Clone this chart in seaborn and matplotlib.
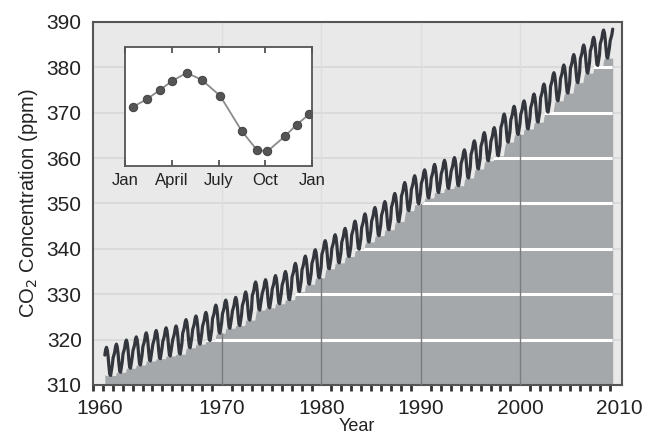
import numpy as np
import pandas as pd
import matplotlib
matplotlib.use("Agg")
import matplotlib.pyplot as plt
import seaborn as sns
from matplotlib.ticker import MultipleLocator

# annual mean CO2 (ppm)
years = list(range(1958, 2010))
annual_mean = [315.3, 316.0, 316.9, 317.6, 318.5, 319.0, 319.6, 320.0, 321.4, 322.2,
               323.0, 324.6, 325.7, 326.3, 327.5, 329.7, 330.2, 331.1, 332.0, 333.8,
               335.4, 336.8, 338.8, 340.1, 341.5, 343.1, 344.7, 346.1, 347.4, 349.2,
               351.6, 353.1, 354.4, 355.6, 356.5, 357.1, 358.8, 360.8, 362.6, 363.7,
               366.7, 368.4, 369.6, 371.1, 373.3, 375.8, 377.5, 379.8, 381.9, 383.6,
               385.2, 385.9]
# seasonal swing per month (Jan..Dec), ppm
month_offset = [0.0, 0.6, 1.3, 2.5, 3.0, 2.4, 0.9, -1.3, -3.0, -3.2, -2.0, -0.9]
start_year, start_month = 1958, 2   # March 1958
end_year, end_month = 2009, 3       # April 2009

# inset: one seasonal cycle
inset_month = [0.47, 1.39, 2.24, 2.99, 3.95, 4.91, 6.09, 7.48, 8.44, 9.12, 10.26, 11.0, 11.79]
inset_value = [0.42, 1.09, 1.87, 2.60, 3.30, 2.71, 1.37, -1.59, -3.16, -3.30, -2.01, -1.06, -0.20]
inset_ticks = [0, 3, 6, 9, 12]
inset_labels = ["Jan", "April", "July", "Oct", "Jan"]

xtick_pos = [1957.7, 1970, 1980, 1990, 2000, 2010]
xtick_labels = ["1960", "1970", "1980", "1990", "2000", "2010"]
yticks = list(range(310, 391, 10))
decades = [1970, 1980, 1990, 2000]

rows = []
for y, mean in zip(years, annual_mean):
    for m, off in enumerate(month_offset):
        if (y, m) < (start_year, start_month) or (y, m) > (end_year, end_month):
            continue
        rows.append({"t": y + (m + 0.5) / 12, "co2": mean + off})
df = pd.DataFrame(rows)
df["low"] = df["co2"].rolling(13, center=True, min_periods=1).min()

sns.set_style("white")
plt.rcParams["font.family"] = ["Liberation Sans", "DejaVu Sans"]

fig = plt.figure(figsize=(6.49, 4.37), dpi=100)
ax = fig.add_axes([0.143, 0.119, 0.815, 0.831])
ax.set_facecolor("#e9e9e9")

for yv in yticks[1:-1]:
    ax.axhline(yv, color="#d8d8d8", lw=1.2, zorder=1)
for xv in decades:
    ax.axvline(xv, color="#dedede", lw=1.0, zorder=1)

poly = ax.fill_between(df["t"], 310, df["low"], color="#a5a8ab", lw=0, zorder=2)
clip = poly.get_paths()[0]
hl = ax.hlines(yticks[1:-1], 1957, 2011, color="white", lw=2.2, zorder=3)
hl.set_clip_path(clip, poly.get_transform())
vl = ax.vlines(decades, 310, 390, color="#7a7c7e", lw=1.0, zorder=3)
vl.set_clip_path(clip, poly.get_transform())

sns.lineplot(data=df, x="t", y="co2", color="#33363c", lw=2.3, ax=ax, zorder=4)

ax.set_xlim(1957, 2010.2)
ax.set_ylim(310, 390)
ax.set_xticks(xtick_pos, xtick_labels)
ax.xaxis.set_minor_locator(MultipleLocator(1))
ax.set_yticks(yticks)
ax.tick_params(axis="x", which="major", length=0, pad=10, labelsize=15, labelcolor="#222222")
ax.tick_params(axis="x", which="minor", length=4, width=2, direction="out", color="#333333", bottom=True)
ax.tick_params(axis="y", length=0, pad=8, labelsize=15, labelcolor="#222222")
for s in ax.spines.values():
    s.set_color("#555555")
    s.set_linewidth(1.5)
ax.set_xlabel("Year", fontsize=13, labelpad=0, color="#222222")
ax.set_ylabel("CO$_2$ Concentration (ppm)", fontsize=14.5, labelpad=5, color="#222222")

ins = fig.add_axes([0.193, 0.620, 0.288, 0.272])
ins.set_facecolor("white")
sns.lineplot(x=inset_month, y=inset_value, ax=ins, color="#8a8a8a", lw=1.3,
             marker="o", markersize=6, markerfacecolor="#555555", markeredgecolor="#444444")
ins.set_xlim(0, 12)
ins.set_ylim(-4.53, 5.45)
ins.set_xticks(inset_ticks, inset_labels)
ins.set_yticks([])
ins.tick_params(axis="x", direction="in", length=4, width=1.2, top=True, bottom=True,
                labelsize=12, pad=5, color="#444444", labelcolor="#222222")
for s in ins.spines.values():
    s.set_color("#555555")
    s.set_linewidth(1.3)

fig.savefig("out.png", dpi=100)
